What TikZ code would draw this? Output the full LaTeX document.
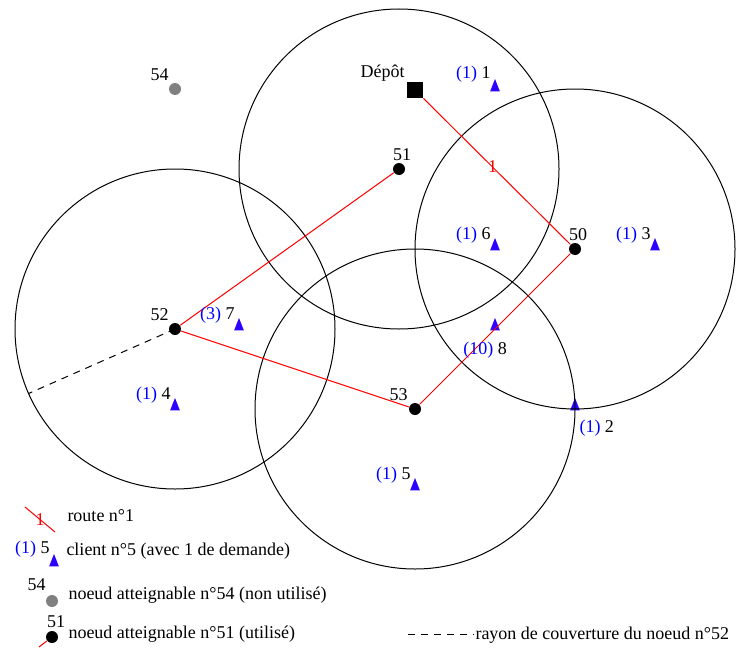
\documentclass[tikz,border=0pt]{standalone}
\usepackage{fontspec}
\setmainfont{Liberation Serif}
\usetikzlibrary{shapes.geometric}

\definecolor{triblue}{RGB}{45,0,255}
\tikzset{every picture/.style={line width=0.75pt}}
\tikzset{
  used/.style={circle,fill=black,inner sep=0pt,minimum size=9pt},
  unused/.style={circle,fill={rgb,255:red,128;green,128;blue,128},inner sep=0pt,minimum size=9pt},
  depot/.style={rectangle,fill=black,inner sep=0pt,minimum size=12pt},
  client/.style={isosceles triangle,isosceles triangle stretches,shape border rotate=90,fill=triblue,inner sep=0pt,minimum width=7.25pt,minimum height=9.25pt},
  route/.style={red},
  cover/.style={dash pattern=on 5.25pt off 4.5pt},
  txt/.style={inner sep=0pt,font=\fontsize{13.5}{15}\selectfont},
}
\newcommand{\dem}[1]{\textcolor{blue}{(#1)}}

\begin{document}
\begin{tikzpicture}[x=0.75pt,y=0.75pt,yscale=-1,xscale=1]
\useasboundingbox (0,0) rectangle (745,660);

% nodes atteignables
\node[depot] (dep) at (415,90) {};
\node[used] (n51) at (399,169) {};
\node[used] (n50) at (575,249) {};
\node[used] (n52) at (175,329) {};
\node[used] (n53) at (415,409) {};
\node[unused] (n54) at (175,89) {};

% clients
\node[client] (c1) at (495,88) {};
\node[client] (c6) at (495,247) {};
\node[client] (c3) at (655,247) {};
\node[client] (c7) at (239,327) {};
\node[client] (c8) at (495,327) {};
\node[client] (c4) at (175,407) {};
\node[client] (c2) at (575,407) {};
\node[client] (c5) at (415,487) {};

% rayons de couverture
\draw (n51) circle [radius=160];
\draw (n50) circle [radius=160];
\draw (n52) circle [radius=160];
\draw (n53) circle [radius=160];
\coordinate (r52) at (28.6,393.5);
\draw[cover] (n52.center) -- (r52);

% route 1
\draw[route] (dep) -- node[txt,pos=0.47,text=red] {1} (n50) -- (n53) -- (n52) -- (n51);

% Text Node
\node[txt,anchor=base east] (ldep) at (405,78) {Dépôt};
\node[txt,anchor=base] (l51) at (402,160) {51};
\node[txt,anchor=base] (l50) at (578,240) {50};
\node[txt,anchor=base east] (l52) at (169,320) {52};
\node[txt,anchor=base east] (l53) at (408,400) {53};
\node[txt,anchor=base east] (l54) at (169,80) {54};

% Text Node
\node[txt,anchor=base east] (lc1) at (491,79) {\dem{1} 1};
\node[txt,anchor=base east] (lc6) at (491,239) {\dem{1} 6};
\node[txt,anchor=base east] (lc3) at (651,239) {\dem{1} 3};
\node[txt,anchor=base east] (lc7) at (235,319) {\dem{3} 7};
\node[txt,anchor=base] (lc8) at (485,354) {\dem{10} 8};
\node[txt,anchor=base east] (lc4) at (171,399) {\dem{1} 4};
\node[txt,anchor=base west] (lc2) at (579,432) {\dem{1} 2};
\node[txt,anchor=base east] (lc5) at (411,479) {\dem{1} 5};

% legende
\coordinate (a1) at (25,507);
\coordinate (a2) at (55,532);
\draw[route] (a1) -- node[txt,pos=0.5,text=red] {1} (a2);
\node[txt,anchor=base west] (t1) at (67,521) {route n°1};

\node[client] (kc) at (54,563) {};
\node[txt,anchor=base east] (klc) at (50,553) {\dem{1} 5};
\node[txt,anchor=base west] (t2) at (66,555) {client n°5 (avec 1 de demande)};

\node[unused] (k54) at (52,601) {};
\node[txt,anchor=base east] (kl54) at (46,590) {54};
\node[txt,anchor=base west] (t3) at (68,599) {noeud atteignable n°54 (non utilisé)};

\node[used] (k51) at (52,637) {};
\coordinate (k0) at (39,647);
\draw[route] (k0) -- (k51);
\node[txt,anchor=base] (kl51) at (56,627) {51};
\node[txt,anchor=base west] (t4) at (68,638) {noeud atteignable n°51 (utilisé)};

\coordinate (d1) at (408,634);
\coordinate (d2) at (474,634);
\draw[cover] (d1) -- (d2);
\node[txt,anchor=base west] (t5) at (475,639) {rayon de couverture du noeud n°52};

\end{tikzpicture}
\end{document}
